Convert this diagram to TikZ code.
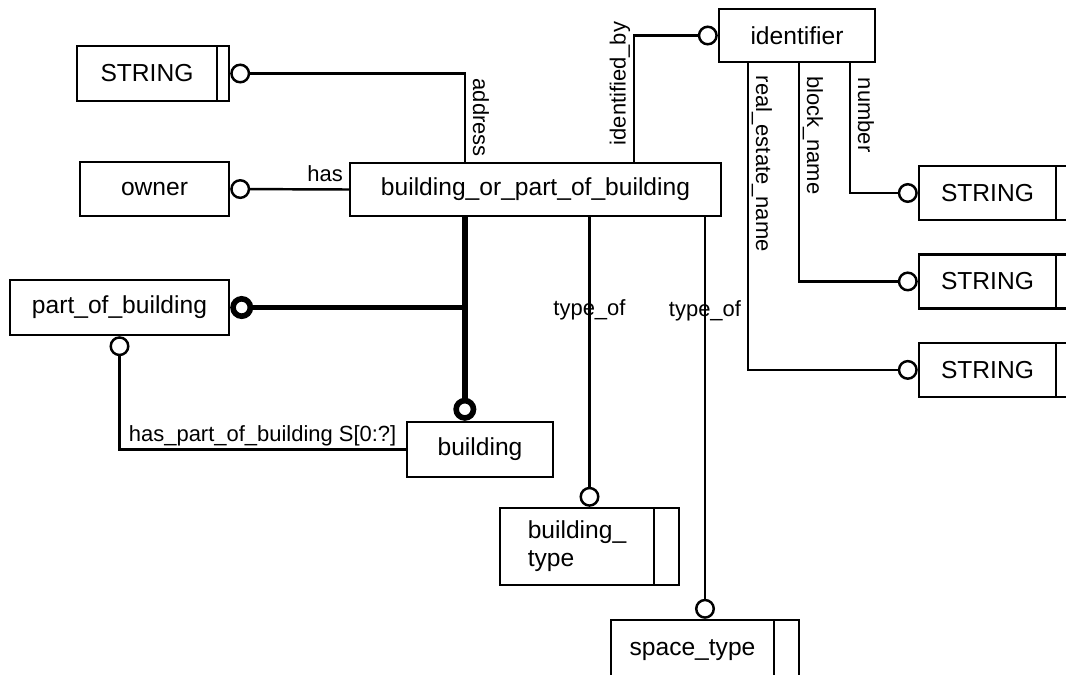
\documentclass[tikz,border=0pt]{standalone}
\usepackage{fontspec}
\setmainfont{Liberation Sans}
\usetikzlibrary{arrows.meta,positioning,calc}
\tikzset{
  box/.style  = {draw=black, line width=1.4pt, inner sep=2pt,
                 font=\fontsize{14}{16}\selectfont},
  tbox/.style = {box, execute at end node={\hspace*{#1}},
                 path picture={\draw[line width=1.4pt]
                   ([xshift=-#1]path picture bounding box.north east) --
                   ([xshift=-#1]path picture bounding box.south east);}},
  lab/.style  = {font=\fontsize{12.5}{14}\selectfont, inner sep=1.5pt,
                 text depth=0.25em},
  rel/.style  = {draw=black, line width=1.4pt,
                 -{Circle[open, length=0.4cm, width=0.4cm]}},
  srel/.style = {draw=black, line width=3.2pt,
                 -{Circle[open, length=0.46cm, width=0.46cm]}},
}
\begin{document}
\begin{tikzpicture}[x=0.02cm, y=-0.02cm]
  \useasboundingbox (0,0) rectangle (1066,674);
  % entities and types
  \node[box, minimum width=7.42cm, minimum height=1.06cm] (bopb) at (535.5,189.5) {building\_or\_part\_of\_building};
  \node[tbox=0.24cm, minimum width=3.04cm, minimum height=1.1cm] (str1) at (153,73.5) {STRING};
  \node[box, minimum width=2.98cm, minimum height=1.08cm] (own) at (154.5,189) {owner};
  \node[box, minimum width=3.12cm, minimum height=1.06cm] (ident) at (797,35.5) {identifier};
  \node[tbox=0.28cm, minimum width=3.02cm, minimum height=1.08cm] (sa) at (994.5,193) {STRING};
  \node[tbox=0.28cm, minimum width=3.02cm, minimum height=1.08cm, below=0.64cm of sa] (sb) {STRING};
  \node[tbox=0.28cm, minimum width=3.02cm, minimum height=1.08cm, below=0.64cm of sb] (sc) {STRING};
  \node[box, minimum width=4.38cm, minimum height=1.1cm] (pob) at (119.5,307.5) {part\_of\_building};
  \node[box, minimum width=2.92cm, minimum height=1.1cm] (bldg) at (480,449.5) {building};
  \node[tbox=0.5cm, minimum width=3.58cm, minimum height=1.54cm] (btype) at (589.5,546.5) {\begin{tabular}{@{}l@{}}building\_\\type\end{tabular}};
  \node[tbox=0.5cm, minimum width=3.76cm, minimum height=1.2cm] (stype) at (705,650) {space\_type};
  % attributes of building_or_part_of_building
  \draw[rel] ($(bopb.north west)+(116,0)$) |- node[lab, rotate=-90, anchor=south, pos=.25] (laddr) {address} (str1.east);
  \draw[rel] (bopb.west) -- node[lab, above, pos=.2] (lhas) {has} (own.east);
  \draw[rel] ($(bopb.north west)+(285,0)$) |- node[lab, rotate=90, anchor=south, pos=.31] (lid) {identified\_by} (ident.west);
  % attributes of identifier
  \draw[rel] ($(ident.south west)+(132,0)$) |- node[lab, rotate=-90, anchor=south, pos=.2] (lnum) {number} (sa.west);
  \draw[rel] ($(ident.south west)+(81,0)$) |- node[lab, rotate=-90, anchor=south, pos=.165] (lblk) {block\_name} (sb.west);
  \draw[rel] ($(ident.south west)+(30,0)$) |- node[lab, rotate=-90, anchor=south, pos=.164] (lre) {real\_estate\_name} (sc.west);
  % subtypes
  \coordinate (sup) at ($(bopb.south west)+(116,0)$);
  \draw[srel] (sup) -- (sup |- bldg.north);
  \draw[srel] (sup |- pob.east) -- (pob.east);
  \draw[rel] (bldg.west) -| node[lab, above, pos=.25] (lhpb) {has\_part\_of\_building S[0:?]} (pob.south);
  % type_of
  \draw[rel] (bopb.south -| btype.north) -- node[lab, pos=.32] (lt1) {type\_of} (btype.north);
  \draw[rel] (bopb.south -| stype.north) -- node[lab, pos=.233] (lt2) {type\_of} (stype.north);
\end{tikzpicture}
\end{document}
